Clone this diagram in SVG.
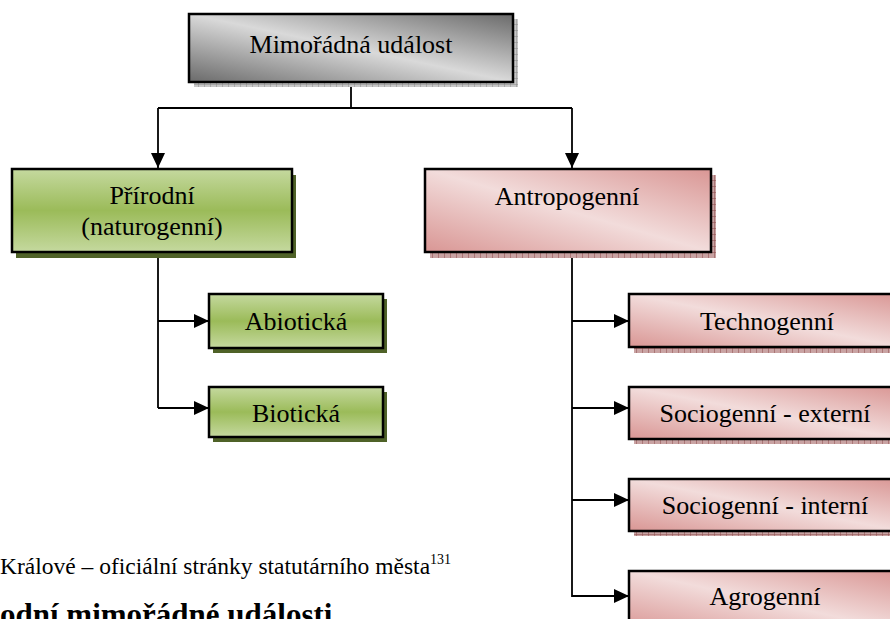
<svg xmlns="http://www.w3.org/2000/svg" width="890" height="619" viewBox="0 0 890 619">
<style>
  text { font-family: 'Liberation Serif', 'DejaVu Serif', serif; }
  .lbl { font-size: 26px; fill: #000; text-anchor: middle; }
  .box { stroke: #000; stroke-width: 2.5; }
  .conn { stroke: #000; stroke-width: 1.8; fill: none; }
  .gray { fill: url(#gGray); }
  .green { fill: url(#gGreen); }
  .pink { fill: url(#gPink); }
</style>
<defs>
  <linearGradient id="gGray" x1="0" y1="1" x2="1" y2="0">
    <stop offset="0" stop-color="#6a6a6a"/>
    <stop offset="0.5" stop-color="#d9d9d9"/>
    <stop offset="1" stop-color="#6a6a6a"/>
  </linearGradient>
  <linearGradient id="gGreen" x1="0" y1="0" x2="0" y2="1">
    <stop offset="0" stop-color="#c5d99f"/>
    <stop offset="0.5" stop-color="#9bbb59"/>
    <stop offset="1" stop-color="#c5d99f"/>
  </linearGradient>
  <linearGradient id="gPink" x1="0" y1="1" x2="1" y2="0">
    <stop offset="0" stop-color="#d99694"/>
    <stop offset="0.5" stop-color="#f2dcdb"/>
    <stop offset="1" stop-color="#d99694"/>
  </linearGradient>
  <pattern id="pGray" width="6" height="6" patternUnits="userSpaceOnUse">
    <rect width="6" height="6" fill="#c8c8c8"/>
    <path d="M0 0H6M0 0V6" stroke="#8a8a8a" stroke-width="1"/>
  </pattern>
  <pattern id="pPink" width="6" height="6" patternUnits="userSpaceOnUse">
    <rect width="6" height="6" fill="#c9a3a3"/>
    <path d="M0 0H6M0 0V6" stroke="#8c4a4a" stroke-width="1"/>
  </pattern>
  <marker id="arr" markerWidth="16" markerHeight="16" refX="15" refY="8" orient="auto" markerUnits="userSpaceOnUse">
    <path d="M0 1L15 8L0 15Z" fill="#000"/>
  </marker>
</defs>

<g id="connectors">
  <path class="conn" d="M351 82V108"/>
  <path class="conn" d="M158 108H572"/>
  <path class="conn" d="M158 108V168" marker-end="url(#arr)"/>
  <path class="conn" d="M572 108V168" marker-end="url(#arr)"/>
  <path class="conn" d="M158 252V408"/>
  <path class="conn" d="M158 321H209" marker-end="url(#arr)"/>
  <path class="conn" d="M158 408H209" marker-end="url(#arr)"/>
  <path class="conn" d="M572 252V597"/>
  <path class="conn" d="M572 321H629" marker-end="url(#arr)"/>
  <path class="conn" d="M572 408H629" marker-end="url(#arr)"/>
  <path class="conn" d="M572 500H629" marker-end="url(#arr)"/>
  <path class="conn" d="M572 596H629" marker-end="url(#arr)"/>
</g>

<g id="n-mimoradna">
  <rect x="194" y="19" width="324" height="68" fill="url(#pGray)"/>
  <rect class="box gray" x="189" y="14" width="324" height="68"/>
  <text class="lbl" x="351" y="53">Mimořádná událost</text>
</g>

<g id="n-prirodni">
  <rect x="16" y="175" width="280" height="83" fill="#4f6228"/>
  <rect class="box green" x="12" y="169" width="280" height="83"/>
  <text class="lbl" x="152" y="204">Přírodní</text>
  <text class="lbl" x="152" y="235">(naturogenní)</text>
</g>

<g id="n-antropogenni">
  <rect x="430" y="175" width="286" height="83" fill="url(#pPink)"/>
  <rect class="box pink" x="425" y="169" width="286" height="83"/>
  <text class="lbl" x="567" y="205">Antropogenní</text>
</g>

<g id="n-abioticka">
  <rect x="213" y="299" width="174" height="54" fill="#4f6228"/>
  <rect class="box green" x="209" y="294" width="174" height="54"/>
  <text class="lbl" x="296" y="330">Abiotická</text>
</g>

<g id="n-bioticka">
  <rect x="213" y="392" width="174" height="50" fill="#4f6228"/>
  <rect class="box green" x="209" y="387" width="174" height="50"/>
  <text class="lbl" x="296" y="422">Biotická</text>
</g>

<g id="n-technogenni">
  <rect x="634" y="299" width="272" height="54" fill="url(#pPink)"/>
  <rect class="box pink" x="629" y="294" width="272" height="53"/>
  <text class="lbl" x="767" y="330">Technogenní</text>
</g>

<g id="n-socio-externi">
  <rect x="634" y="392" width="272" height="52" fill="url(#pPink)"/>
  <rect class="box pink" x="629" y="387" width="272" height="52"/>
  <text class="lbl" x="765" y="422">Sociogenní - externí</text>
</g>

<g id="n-socio-interni">
  <rect x="634" y="484" width="272" height="52" fill="url(#pPink)"/>
  <rect class="box pink" x="629" y="479" width="272" height="52"/>
  <text class="lbl" x="765" y="514">Sociogenní - interní</text>
</g>

<g id="n-agrogenni">
  <rect x="634" y="576" width="272" height="60" fill="url(#pPink)"/>
  <rect class="box pink" x="629" y="571" width="272" height="60"/>
  <text class="lbl" x="765" y="605">Agrogenní</text>
</g>

<g id="background-text">
  <text x="0" y="574" font-size="23.5">Králové – oficiální stránky statutárního města<tspan dy="-10" font-size="14">131</tspan></text>
  <text x="0" y="625" font-size="31" font-weight="bold">odní mimořádné události</text>
</g>
</svg>
